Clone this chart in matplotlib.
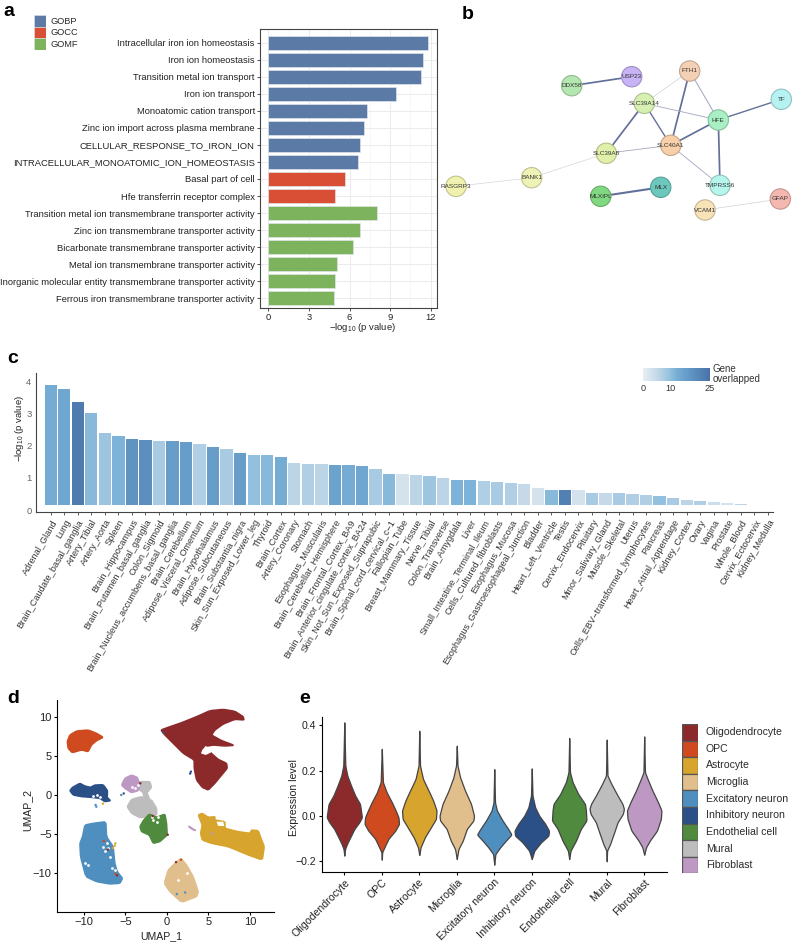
import numpy as np
import matplotlib
matplotlib.use('Agg')
import matplotlib.pyplot as plt
from matplotlib.colors import LinearSegmentedColormap, Normalize
from matplotlib.cm import ScalarMappable

plt.rcParams['font.family'] = ['Liberation Sans', 'DejaVu Sans']
plt.rcParams['mathtext.default'] = 'regular'
plt.rcParams['axes.unicode_minus'] = True

W, H = 792, 944

# panel a: enrichment terms
go_terms = ['Intracellular iron ion homeostasis', 'Iron ion homeostasis', 'Transition metal ion transport',
            'Iron ion transport', 'Monoatomic cation transport', 'Zinc ion import across plasma membrane',
            'CELLULAR_RESPONSE_TO_IRON_ION', 'INTRACELLULAR_MONOATOMIC_ION_HOMEOSTASIS',
            'Basal part of cell', 'Hfe transferrin receptor complex',
            'Transition metal ion transmembrane transporter activity', 'Zinc ion transmembrane transporter activity',
            'Bicarbonate transmembrane transporter activity', 'Metal ion transmembrane transporter activity',
            'Inorganic molecular entity transmembrane transporter activity',
            'Ferrous iron transmembrane transporter activity']
go_values = [11.77, 11.45, 11.26, 9.43, 7.29, 7.09, 6.75, 6.6, 5.69, 4.95, 8.05, 6.75, 6.26, 5.05, 4.95, 4.85]
go_groups = ['GOBP'] * 8 + ['GOCC'] * 2 + ['GOMF'] * 6
go_colors = {'GOBP': '#5b7ba6', 'GOCC': '#d94f35', 'GOMF': '#7db35c'}

# panel b: string network
node_names = ['DDX58', 'USP23', 'FTH1', 'SLC39A14', 'HFE', 'TF', 'SLC40A1', 'SLC39A8', 'BANK1', 'RASGRP3',
              'MLXIPL', 'MLX', 'TMPRSS6', 'VCAM1', 'GFAP']
node_x = [571.7, 631.7, 689.7, 644.3, 718.3, 781.3, 670.7, 606.3, 531.7, 456, 600.7, 660.7, 720, 705, 780.3]
node_y = [85.7, 76.7, 71, 103.3, 120, 99.3, 145.3, 153.3, 177.7, 186.3, 196.3, 187.3, 185.3, 210, 199]
node_colors = ['#b5e8b0', '#c7b3f5', '#f4d0b5', '#d6f0b2', '#a8f0c4', '#b5f2f2', '#f7cfa8', '#e0f0aa', '#eef2b5',
               '#f2f2b0', '#80d880', '#6cc8bc', '#b5f5ea', '#f8e3b8', '#f5b8b0']
edge_from = ['DDX58', 'FTH1', 'FTH1', 'FTH1', 'SLC39A14', 'SLC39A14', 'SLC39A14', 'HFE', 'HFE', 'HFE',
             'SLC40A1', 'SLC40A1', 'SLC39A8', 'BANK1', 'MLXIPL', 'VCAM1']
edge_to = ['USP23', 'SLC39A14', 'SLC40A1', 'HFE', 'HFE', 'SLC40A1', 'SLC39A8', 'TF', 'SLC40A1', 'TMPRSS6',
           'SLC39A8', 'TMPRSS6', 'BANK1', 'RASGRP3', 'MLX', 'GFAP']
edge_weight = [2.0, 0.7, 2.0, 1.2, 1.0, 1.6, 2.0, 1.6, 2.0, 2.0, 1.0, 1.0, 0.6, 0.6, 2.4, 0.7]

# panel c: tissues
tissues = ['Adrenal_Gland', 'Lung', 'Brain_Caudate_basal_ganglia', 'Artery_Tibial', 'Artery_Aorta', 'Spleen',
           'Brain_Hippocampus', 'Brain_Putamen_basal_ganglia', 'Colon_Sigmoid',
           'Brain_Nucleus_accumbens_basal_ganglia', 'Brain_Cerebellum', 'Adipose_Visceral_Omentum',
           'Brain_Hypothalamus', 'Adipose_Subcutaneous', 'Brain_Substantia_nigra', 'Skin_Sun_Exposed_Lower_leg',
           'Thyroid', 'Brain_Cortex', 'Artery_Coronary', 'Stomach', 'Esophagus_Muscularis',
           'Brain_Cerebellar_Hemisphere', 'Brain_Frontal_Cortex_BA9', 'Brain_Anterior_cingulate_cortex_BA24',
           'Skin_Not_Sun_Exposed_Suprapubic', 'Brain_Spinal_cord_cervical_c\u22121', 'Fallopian_Tube',
           'Breast_Mammary_Tissue', 'Nerve_Tibial', 'Colon_Transverse', 'Brain_Amygdala', 'Liver',
           'Small_Intestine_Terminal_Ileum', 'Cells_Cultured_fibroblasts', 'Esophagus_Mucosa',
           'Esophagus_Gastroesophageal_Junction', 'Bladder', 'Heart_Left_Ventricle', 'Testis', 'Cervix_Endocervix',
           'Pituitary', 'Minor_Salivary_Gland', 'Muscle_Skeletal', 'Uterus', 'Cells_EBV\u2212transformed_lymphocytes',
           'Pancreas', 'Heart_Atrial_Appendage', 'Kidney_Cortex', 'Ovary', 'Vagina', 'Prostate', 'Whole_Blood',
           'Cervix_Ectocervix', 'Kidney_Medulla']
tissue_p = [3.90, 3.77, 3.38, 3.01, 2.41, 2.32, 2.22, 2.19, 2.15, 2.14, 2.11, 2.07, 1.96, 1.89, 1.79, 1.70, 1.70,
            1.64, 1.47, 1.43, 1.42, 1.41, 1.40, 1.37, 1.28, 1.13, 1.12, 1.09, 1.05, 1.00, 0.95, 0.95, 0.89, 0.88,
            0.85, 0.81, 0.69, 0.64, 0.63, 0.62, 0.54, 0.53, 0.53, 0.51, 0.47, 0.44, 0.37, 0.31, 0.28, 0.26, 0.22,
            0.19, 0.15, 0.15]
tissue_genes = [13, 14, 23, 11, 9, 12, 18, 19, 8, 16, 16, 7, 16, 8, 16, 10, 11, 13, 6, 7, 6, 15, 13, 14, 8, 11, 3, 6,
                9, 6, 12, 12, 7, 8, 7, 5, 3, 11, 22, 3, 8, 5, 8, 7, 7, 10, 8, 6, 7, 4, 3, 6, 0, 0]
bar_floor = 0.15  # the bars in the figure do not start at the 0 label

# panel d: cluster outlines
oligo_x = [-0.72, 0.16, 1.77, 3.57, 5.18, 6.79, 8.19, 9.20, 9.28, 8.19, 6.79, 5.78, 5.38, 6.59, 8.11, 6.99, 5.58, 4.50,
           5.58, 6.18, 7.19, 7.27, 6.59, 5.78, 4.98, 4.26, 3.57, 3.29, 3.29, 1.97, 0.56, -0.24]
oligo_y = [8.33, 8.68, 9.27, 10.04, 10.81, 10.98, 10.73, 10.04, 9.62, 9.70, 9.10, 8.33, 7.69, 6.97, 6.37, 6.28, 6.41,
           6.20, 5.13, 4.57, 4.06, 3.42, 2.56, 1.50, 0.64, 0.98, 1.92, 3.42, 4.49, 5.34, 6.84, 7.69]
oligo_hole_x = [4.26, 4.66, 5.30, 5.30, 4.66, 4.10]
oligo_hole_y = [5.77, 6.28, 5.98, 5.43, 5.13, 5.34]
opc_x = [-12.0, -11.69, -10.88, -9.48, -8.47, -7.67, -8.47, -9.08, -9.48, -10.28, -11.41, -11.89]
opc_y = [6.84, 7.69, 8.21, 8.33, 7.91, 7.39, 6.97, 6.41, 5.56, 5.77, 5.43, 5.98]
astro_x = [3.78, 4.26, 4.98, 5.78, 5.78, 6.99, 6.99, 8.59, 10.0, 10.2, 11.0, 11.41, 11.73, 11.49, 9.8, 7.39, 5.38, 4.26,
           4.06, 4.26]
astro_y = [-2.56, -2.35, -2.86, -2.78, -3.21, -3.42, -4.27, -4.70, -4.91, -4.49, -4.57, -5.77, -6.62, -8.33, -7.69,
           -6.62, -6.20, -5.77, -4.91, -3.85]
astro_hole_x = [5.98, 6.79, 6.91, 6.18]
astro_hole_y = [-3.42, -3.42, -3.97, -3.97]
micro_x = [1.69, 2.37, 3.17, 3.78, 3.57, 1.77, 0.36, -0.32, 0.16, 0.96]
micro_y = [-8.12, -8.97, -10.47, -12.39, -13.03, -13.76, -12.39, -11.32, -9.62, -8.76]
exc_x = [-9.88, -8.88, -7.35, -7.27, -6.47, -6.27, -5.98, -5.34, -5.66, -6.87, -8.47, -9.76, -10.40, -10.48, -10.16]
exc_y = [-3.85, -3.63, -3.42, -5.34, -6.62, -8.76, -9.83, -10.68, -11.32, -11.41, -11.11, -10.47, -7.91, -6.20, -5.34]
inh_x = [-11.69, -11.37, -10.48, -9.88, -9.2, -8.67, -7.67, -7.15, -7.19, -6.79, -7.47, -8.07, -9.08, -10.28, -11.29]
inh_y = [0.56, 0.98, 1.50, 1.15, 0.98, 1.28, 1.32, 0.56, -0.30, -0.73, -0.85, -0.43, -0.30, -0.21, 0.0]
endo_x = [-3.25, -2.85, -2.13, -1.24, -0.24, -0.04, 0.04, -0.84, -1.65, -2.13, -3.05]
endo_y = [-4.06, -3.29, -2.44, -2.86, -2.44, -3.63, -5.13, -5.98, -6.2, -5.13, -4.7]
mural1_x = [-3.57, -2.85, -2.05, -1.85, -2.45, -3.25]
mural1_y = [1.71, 1.71, 1.71, 0.98, 0.21, 0.56]
mural2_x = [-4.78, -4.26, -3.05, -1.85, -1.24, -1.24, -2.25, -3.25, -4.26]
mural2_y = [-1.50, -0.56, -0.21, -0.64, -1.71, -2.56, -2.78, -2.91, -2.35]
mural3_x = [-2.93, -2.37, -2.05, -2.65]
mural3_y = [0.43, 0.21, -0.64, -0.51]
fibro_x = [-5.46, -5.06, -4.26, -3.57, -3.25, -3.45, -4.26, -5.06]
fibro_y = [1.28, 2.14, 2.56, 2.26, 1.28, 0.56, 0.30, 0.85]
sliver_x = [2.57, 3.49, 3.05]
sliver_y = [-3.97, -4.57, -4.4]
# gaps inside the clusters
gap_x = [-7.67, -7.07, -6.87, -9.88, -9.48, -6.67, -6.27, -7.27, -7.4, -8.88, -8.47, -8.07, -1.65, -1.24, -1.85, -1.04,
         -3.86, -3.45, -4.26, 1.37, 2.37]
gap_y = [-6.62, -6.84, -7.91, -8.76, -8.97, -9.40, -9.62, -6.20, -7.2, -0.09, 0.0, -0.21, -3.21, -3.42, -2.78, -2.78,
         0.85, 1.28, 0.98, -10.9, -10.04]
# stray cells of other clusters
stray_x = [-7.6, -7.1, -6.3, -6.5, -6.2, 2.2, 1.7, 1.1, 5.4, 2.89, 2.8, -5.2, -5.5, -8.59, -8.5, -1.7, -3.2, 0.1,
           -7.7, -0.44, 1.2, -6.2, -6.0]
stray_y = [-5.9, -7.0, -6.5, -6.8, -6.2, -12.5, -8.3, -8.6, -4.9, 2.99, 2.75, 0.2, 0.0, -1.28, -1.5, -2.7, 1.5, -5.1,
           -1.1, 8.03, -12.7, -10.1, -10.3]
stray_c = ['#cf4a1f', '#8c2a2b', '#d7a42d', '#d7a42d', '#d7a42d', '#4f8fc0', '#cf4a1f', '#8c2a2b', '#bd98c2', '#2b4f87',
           '#2b4f87', '#2b4f87', '#4f8fc0', '#4f8fc0', '#4f8fc0', '#8c2a2b', '#8c2a2b', '#8c2a2b', '#d7a42d', '#2b4f87',
           '#4f8fc0', '#cf4a1f', '#8c2a2b']

# panel e: violin half widths, read at a few expression levels
cell_types = ['Oligodendrocyte', 'OPC', 'Astrocyte', 'Microglia', 'Excitatory neuron', 'Inhibitory neuron',
              'Endothelial cell', 'Mural', 'Fibroblast']
cell_colors = ['#8c2a2b', '#cf4a1f', '#d7a42d', '#e0bf8c', '#4f8fc0', '#2b4f87', '#4f8a3f', '#bdbdbd', '#bd98c2']
oligo_lv = [0.413, 0.222, 0.178, 0.134, 0.09, 0.053, 0.024, -0.006, -0.028, -0.057, -0.087, -0.124, -0.146, -0.175]
oligo_w = [0, 0.027, 0.08, 0.18, 0.29, 0.42, 0.445, 0.47, 0.40, 0.27, 0.18, 0.07, 0.02, 0]
opc_lv = [0.296, 0.149, 0.104, 0.06, 0.024, -0.006, -0.035, -0.065, -0.10, -0.138, -0.16, -0.193]
opc_w = [0, 0.03, 0.13, 0.27, 0.37, 0.445, 0.46, 0.36, 0.18, 0.07, 0.01, 0]
astro_lv = [0.376, 0.222, 0.163, 0.104, 0.068, 0.024, -0.013, -0.05, -0.094, -0.138, -0.172]
astro_w = [0, 0.02, 0.10, 0.27, 0.37, 0.46, 0.445, 0.31, 0.15, 0.035, 0]
micro_lv = [0.31, 0.222, 0.17, 0.112, 0.053, 0.001, -0.02, -0.057, -0.109, -0.146, -0.19]
micro_w = [0, 0.02, 0.09, 0.22, 0.38, 0.46, 0.445, 0.27, 0.16, 0.045, 0]
exc_lv = [0.207, 0.06, 0.024, -0.02, -0.057, -0.082, -0.109, -0.138, -0.168, -0.215]
exc_w = [0, 0.02, 0.07, 0.22, 0.37, 0.46, 0.31, 0.16, 0.03, 0]
inh_lv = [0.21, 0.09, 0.038, 0.001, -0.035, -0.065, -0.087, -0.116, -0.153, -0.19]
inh_w = [0, 0.02, 0.09, 0.2, 0.36, 0.46, 0.445, 0.25, 0.07, 0]
endo_lv = [0.344, 0.193, 0.149, 0.097, 0.053, 0.024, -0.02, -0.057, -0.109, -0.153, -0.19]
endo_w = [0, 0.02, 0.09, 0.24, 0.42, 0.445, 0.46, 0.31, 0.18, 0.035, 0]
mural_lv = [0.337, 0.178, 0.141, 0.09, 0.053, 0.031, 0.009, -0.028, -0.072, -0.124, -0.153, -0.2]
mural_w = [0, 0.02, 0.125, 0.29, 0.42, 0.46, 0.43, 0.29, 0.2, 0.09, 0.01, 0]
fibro_lv = [0.351, 0.193, 0.163, 0.112, 0.06, 0.024, -0.013, -0.065, -0.109, -0.138, -0.171]
fibro_w = [0, 0.02, 0.09, 0.22, 0.37, 0.46, 0.445, 0.34, 0.15, 0.05, 0]
violin_lv = [oligo_lv, opc_lv, astro_lv, micro_lv, exc_lv, inh_lv, endo_lv, mural_lv, fibro_lv]
violin_w = [oligo_w, opc_w, astro_w, micro_w, exc_w, inh_w, endo_w, mural_w, fibro_w]

fig = plt.figure(figsize=(W / 100, H / 100), dpi=100)


# axes from a pixel box measured on the figure
def px_axes(left, top, right, bottom):
    return fig.add_axes([left / W, 1 - bottom / H, (right - left) / W, (bottom - top) / H])


def panel_letter(letter, x, y):
    fig.text(x / W, 1 - y / H, letter, fontsize=14, fontweight='bold', color='black', va='baseline')


# stacked colour key, the squares touch each other
def color_key(labels, colors, box, text_x, fontsize, edge, lw):
    ax = px_axes(*box)
    ax.barh(range(len(labels)), [1] * len(labels), height=1, left=0, color=colors, edgecolor=edge, linewidth=lw)
    ax.set_xlim(0, 1)
    ax.set_ylim(len(labels) - 0.5, -0.5)
    ax.axis('off')
    tx = (text_x - box[0]) / (box[2] - box[0])
    for i, lab in enumerate(labels):
        ax.text(tx, i, lab, fontsize=fontsize, va='center', ha='left', color='#2a2a2a', clip_on=False)


# enrichment bars
def plot_go():
    ax = px_axes(259.7, 29.3, 437.3, 308.3)
    y = np.arange(len(go_terms))
    ax.barh(y, go_values, height=0.8, color=[go_colors[g] for g in go_groups], edgecolor='#dfe5ea', linewidth=0.5,
            zorder=3)
    ax.set_xlim(-0.64, 12.49)
    ax.set_ylim(15.59, -0.786)
    ax.set_xticks([0, 3, 6, 9, 12])
    ax.set_xticks([1.5, 4.5, 7.5, 10.5], minor=True)
    ax.set_yticks(y)
    ax.set_yticklabels(go_terms)
    ax.grid(True, which='major', color='#e8e8e8', linewidth=0.6, zorder=0)
    ax.grid(True, which='minor', axis='x', color='#f0f0f0', linewidth=0.4, zorder=0)
    ax.tick_params(axis='both', which='major', labelsize=6.75, length=2, width=0.6, color='#333333',
                   labelcolor='#222222', pad=1.5)
    ax.tick_params(axis='x', which='minor', length=0)
    for s in ax.spines.values():
        s.set_color('#444444')
        s.set_linewidth(0.8)
    ax.set_xlabel('$-log_{10}$ (p value)', fontsize=6.8, color='#222222', labelpad=-0.5, x=0.58)
    color_key(list(go_colors), list(go_colors.values()), (34.3, 15.3, 45.7, 50), 50.7, 6.7, '#dfe5ea', 0.4)


# string network, drawn in the layout coordinates of the image
def plot_network():
    ax = px_axes(440, 40, 792, 235)
    ax.set_xlim(440, 792)
    ax.set_ylim(235, 40)
    ax.axis('off')
    pos = {n: (x, y) for n, x, y in zip(node_names, node_x, node_y)}
    for a, b, w in zip(edge_from, edge_to, edge_weight):
        shade = '#626f99' if w >= 1.5 else ('#a4a9c0' if w >= 0.9 else '#c9cad3')
        ax.plot([pos[a][0], pos[b][0]], [pos[a][1], pos[b][1]], color=shade, lw=w * 0.62, solid_capstyle='butt',
                zorder=1)
    edge_cols = [tuple(0.8 * c for c in matplotlib.colors.to_rgb(col)) for col in node_colors]
    ax.scatter(node_x, node_y, s=215, c=node_colors, edgecolors=edge_cols, linewidths=0.8, zorder=2, clip_on=False)
    for n, x, y in zip(node_names, node_x, node_y):
        ax.text(x, y, n, fontsize=4.6, ha='center', va='center', color='#333333', zorder=3)


# tissue bars with the gene count as colour
def plot_tissues():
    ax = px_axes(35.7, 373, 773.3, 512.3)
    cmap = LinearSegmentedColormap.from_list('overlap', [(0, '#e6eff5'), (0.2, '#c5d9e8'), (0.4, '#93c0de'),
                                                         (0.5, '#77afd6'), (0.7, '#6096c4'), (1, '#4a72a8')], N=256)
    norm = Normalize(0, 25)
    x = np.arange(len(tissues))
    heights = np.array(tissue_p) - bar_floor
    ax.bar(x, heights, width=0.91, bottom=bar_floor, color=cmap(norm(tissue_genes)))
    ax.set_xlim(-1.11, 53.4)
    ax.set_ylim(-0.07, 4.27)
    ax.set_xticks(x)
    ax.set_xticklabels(tissues, rotation=60, ha='right', va='top', rotation_mode='anchor')
    ax.set_yticks([0, 1, 2, 3, 4])
    ax.tick_params(axis='x', labelsize=6.6, length=2, width=0.6, color='#444444', labelcolor='#333333', pad=2)
    ax.tick_params(axis='y', labelsize=6.8, length=0, labelcolor='#666666', pad=3)
    ax.spines['top'].set_visible(False)
    ax.spines['right'].set_visible(False)
    ax.spines['left'].set_color('#444444')
    ax.spines['bottom'].set_color('#444444')
    ax.set_ylabel('$-log_{10}$ (p value)', fontsize=6.8, color='#222222', labelpad=0, y=0.605)

    cax = px_axes(643.3, 368, 710, 381)
    cb = fig.colorbar(ScalarMappable(norm=norm, cmap=cmap), cax=cax, orientation='horizontal', ticks=[0, 10, 25])
    cb.outline.set_visible(False)
    cax.tick_params(labelsize=6.6, length=0, pad=2, labelcolor='#333333')
    fig.text(712.7 / W, 1 - 374.5 / H, 'Gene\noverlapped', fontsize=7, color='#333333', va='center', linespacing=1.0)


# cut the corners of an outline a little, only for drawing
def round_outline(xs, ys):
    pts = np.column_stack([xs, ys])
    nxt = np.roll(pts, -1, axis=0)
    pts = np.column_stack([0.88 * pts + 0.12 * nxt, 0.12 * pts + 0.88 * nxt]).reshape(-1, 2)
    return pts[:, 0], pts[:, 1]


# umap clusters as outlines
def plot_umap():
    ax = px_axes(57.3, 700, 274, 911.7)
    outlines = [(oligo_x, oligo_y, cell_colors[0]), (opc_x, opc_y, cell_colors[1]), (astro_x, astro_y, cell_colors[2]),
                (micro_x, micro_y, cell_colors[3]), (exc_x, exc_y, cell_colors[4]), (inh_x, inh_y, cell_colors[5]),
                (mural1_x, mural1_y, cell_colors[7]), (mural2_x, mural2_y, cell_colors[7]),
                (mural3_x, mural3_y, cell_colors[7]), (endo_x, endo_y, cell_colors[6]),
                (fibro_x, fibro_y, cell_colors[8]), (sliver_x, sliver_y, cell_colors[8])]
    for xs, ys, col in outlines:
        rx, ry = round_outline(xs, ys)
        ax.fill(rx, ry, facecolor=col, edgecolor=col, linewidth=1.1, joinstyle='round')
    ax.fill(oligo_hole_x, oligo_hole_y, facecolor='white', zorder=3)
    ax.fill(astro_hole_x, astro_hole_y, facecolor='white', zorder=3)
    ax.scatter(gap_x, gap_y, s=4, c='white', linewidths=0, zorder=3)
    ax.scatter(stray_x, stray_y, s=3, c=stray_c, linewidths=0, zorder=4)
    ax.set_xlim(-13.2, 12.9)
    ax.set_ylim(-14.96, 12.18)
    ax.set_xticks([-10, -5, 0, 5, 10])
    ax.set_yticks([-10, -5, 0, 5, 10])
    ax.tick_params(labelsize=8, length=2.5, width=0.8, labelcolor='#222222', pad=1.5)
    ax.spines['top'].set_visible(False)
    ax.spines['right'].set_visible(False)
    ax.set_xlabel('UMAP_1', fontsize=7.6, color='#222222', labelpad=3, x=0.48)
    ax.set_ylabel('UMAP_2', fontsize=7.6, color='#222222', labelpad=0, y=0.48)


# violins from the read widths; only the outline is smoothed for drawing
def plot_violins():
    ax = px_axes(322, 716.7, 666.7, 871.7)
    kernel = np.hanning(9)
    kernel = kernel / kernel.sum()
    for i, (lv, w, col) in enumerate(zip(violin_lv, violin_w, cell_colors)):
        ys = np.linspace(lv[-1], lv[0], 240)
        ws = np.interp(ys, lv[::-1], w[::-1])
        ws = np.convolve(np.pad(ws, 4, mode='edge'), kernel, mode='valid')
        ax.fill_betweenx(ys, i - ws, i + ws, facecolor=col, edgecolor='#444444', linewidth=0.9, zorder=2)
    ax.set_xlim(-0.595, 8.6)
    ax.set_ylim(-0.246, 0.438)
    ax.set_xticks(range(len(cell_types)))
    ax.set_xticklabels(cell_types, rotation=45, ha='right', va='top', rotation_mode='anchor')
    ax.set_yticks([-0.2, 0, 0.2, 0.4])
    ax.set_yticklabels(['\u22120.2', '0.0', '0.2', '0.4'])
    ax.tick_params(labelsize=7.6, length=2.5, width=0.8, labelcolor='#222222', pad=1.5)
    ax.spines['top'].set_visible(False)
    ax.spines['right'].set_visible(False)
    ax.set_ylabel('Expression level', fontsize=7.6, color='#222222', labelpad=-2, y=0.48)
    color_key(cell_types, cell_colors, (682, 724, 697.7, 873.4), 706, 7.6, '#555555', 0.9)


if __name__ == "__main__":
    plot_go()
    plot_network()
    plot_tissues()
    plot_umap()
    plot_violins()
    panel_letter('a', 3, 16)
    panel_letter('b', 462, 19)
    panel_letter('c', 7, 363)
    panel_letter('d', 7, 703)
    panel_letter('e', 299, 703)
    fig.savefig('out.png', dpi=100, facecolor='white')
